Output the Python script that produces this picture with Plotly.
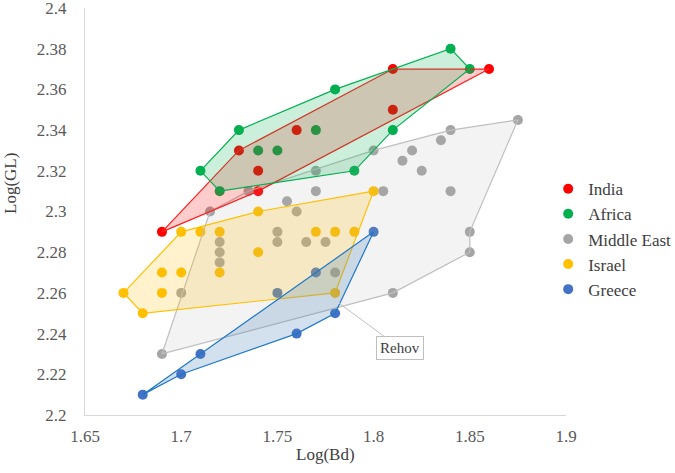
import plotly.graph_objects as go

# ---------------- data ----------------
india_x = [1.69, 1.73, 1.74, 1.74, 1.76, 1.81, 1.81, 1.86]
india_y = [2.29, 2.33, 2.32, 2.31, 2.34, 2.37, 2.35, 2.37]
india_hull = [0, 1, 5, 7, 3]

africa_x = [1.71, 1.72, 1.73, 1.74, 1.75, 1.77, 1.78, 1.79, 1.81, 1.84, 1.85]
africa_y = [2.32, 2.31, 2.34, 2.33, 2.33, 2.34, 2.36, 2.32, 2.34, 2.38, 2.37]
africa_hull = [0, 2, 6, 9, 10, 8, 7, 1]

me_x = [1.69, 1.70, 1.715, 1.72, 1.72, 1.72, 1.735, 1.75, 1.75, 1.755, 1.76,
        1.765, 1.77, 1.77, 1.775, 1.78, 1.80, 1.805, 1.81, 1.815, 1.82, 1.825,
        1.835, 1.84, 1.84, 1.85, 1.85, 1.875]
me_y = [2.23, 2.26, 2.30, 2.285, 2.28, 2.275, 2.31, 2.29, 2.285, 2.305, 2.30,
        2.285, 2.32, 2.31, 2.285, 2.27, 2.33, 2.31, 2.26, 2.325, 2.33, 2.32,
        2.335, 2.34, 2.31, 2.29, 2.28, 2.345]
me_hull = [0, 2, 6, 16, 23, 27, 25, 26, 18]

israel_x = [1.67, 1.68, 1.69, 1.69, 1.70, 1.70, 1.71, 1.72, 1.72, 1.74, 1.74,
            1.77, 1.78, 1.79, 1.78, 1.80]
israel_y = [2.26, 2.25, 2.27, 2.26, 2.29, 2.27, 2.29, 2.29, 2.27, 2.30, 2.28,
            2.29, 2.29, 2.29, 2.26, 2.31]
israel_hull = [0, 4, 9, 15, 14, 1]

greece_x = [1.68, 1.70, 1.71, 1.75, 1.76, 1.77, 1.78, 1.80]
greece_y = [2.21, 2.22, 2.23, 2.26, 2.24, 2.27, 2.25, 2.29]
greece_hull = [0, 7, 6, 4, 1]

x_ticks = [1.65, 1.7, 1.75, 1.8, 1.85, 1.9]
x_tick_labels = ["1.65", "1.7", "1.75", "1.8", "1.85", "1.9"]
y_ticks = [2.2, 2.22, 2.24, 2.26, 2.28, 2.3, 2.32, 2.34, 2.36, 2.38, 2.4]
y_tick_labels = ["2.2", "2.22", "2.24", "2.26", "2.28", "2.3", "2.32", "2.34",
                 "2.36", "2.38", "2.4"]

rehov_label = "Rehov"
rehov_x, rehov_y = 1.782, 2.255

# ---------------- styling ----------------
series = [
    ("India", india_x, india_y, india_hull, "#ff0000", "#ff1a1a", "rgba(255,0,0,0.2)"),
    ("Africa", africa_x, africa_y, africa_hull, "#00b050", "#00b050", "rgba(0,176,80,0.2)"),
    ("Middle East", me_x, me_y, me_hull, "#a5a5a5", "#bfbfbf", "rgba(175,175,175,0.15)"),
    ("Israel", israel_x, israel_y, israel_hull, "#ffc000", "#ffc000", "rgba(255,192,0,0.2)"),
    ("Greece", greece_x, greece_y, greece_hull, "#4472c4", "#1f78c8", "rgba(70,130,190,0.24)"),
]

FONT = "Liberation Serif, Times New Roman, serif"

fig = go.Figure()

# points first
for name, xs, ys, hull, mcol, lcol, fcol in series:
    fig.add_trace(go.Scatter(
        x=xs, y=ys, mode="markers", name=name,
        marker=dict(color=mcol, size=10, line=dict(width=0)),
        showlegend=True,
    ))

# polygons on top (drawn from the same data via hull index lists)
poly_order = ["Middle East", "Israel", "Greece", "India", "Africa"]
lookup = {s[0]: s for s in series}
for pname in poly_order:
    name, xs, ys, hull, mcol, lcol, fcol = lookup[pname]
    px = [xs[i] for i in hull] + [xs[hull[0]]]
    py = [ys[i] for i in hull] + [ys[hull[0]]]
    fig.add_trace(go.Scatter(
        x=px, y=py, mode="lines", fill="toself", fillcolor=fcol,
        line=dict(color=lcol, width=1.2), showlegend=False, hoverinfo="skip",
    ))

fig.update_layout(
    width=675, height=473,
    margin=dict(l=85, r=109, t=8, b=58, autoexpand=False),
    paper_bgcolor="white", plot_bgcolor="white",
    font=dict(family=FONT, size=17, color="#595959"),
    showlegend=True,
    legend=dict(x=0.963, y=0.432, xanchor="left", yanchor="middle",
                font=dict(family=FONT, size=17, color="#404040"),
                itemwidth=30, tracegroupgap=0, bgcolor="rgba(0,0,0,0)"),
    xaxis=dict(range=[1.65, 1.9], tickvals=x_ticks, ticktext=x_tick_labels,
               showgrid=False, zeroline=False, showline=True, linecolor="#d9d9d9",
               linewidth=1, ticks="", ticklabelstandoff=6, ticklabeloverflow="allow",
               tickfont=dict(family=FONT, size=17, color="#595959")),
    yaxis=dict(range=[2.2, 2.4], tickvals=y_ticks, ticktext=y_tick_labels,
               showgrid=False, zeroline=False, showline=True, linecolor="#d9d9d9",
               linewidth=1, ticks="", ticklabelstandoff=14, ticklabeloverflow="allow",
               tickfont=dict(family=FONT, size=17, color="#595959")),
    annotations=[
        dict(text="Log(Bd)", xref="paper", yref="paper", x=0.5, y=-0.068,
             xanchor="center", yanchor="top", showarrow=False,
             font=dict(family=FONT, size=17, color="#404040")),
        dict(text="Log(GL)", xref="paper", yref="paper", x=-0.156, y=0.57,
             xanchor="center", yanchor="middle", textangle=-90, showarrow=False,
             font=dict(family=FONT, size=17, color="#404040")),
        dict(text=rehov_label, x=rehov_x, y=rehov_y, xref="x", yref="y",
             showarrow=True, arrowhead=0, arrowwidth=1, arrowcolor="#bfbfbf",
             ax=61, ay=45, bordercolor="#bfbfbf", borderwidth=1, borderpad=3,
             bgcolor="white", font=dict(family=FONT, size=15, color="#404040")),
    ],
)

fig.write_html("out.html", config={"displayModeBar": False},
               post_script="document.body.style.margin='0';")
